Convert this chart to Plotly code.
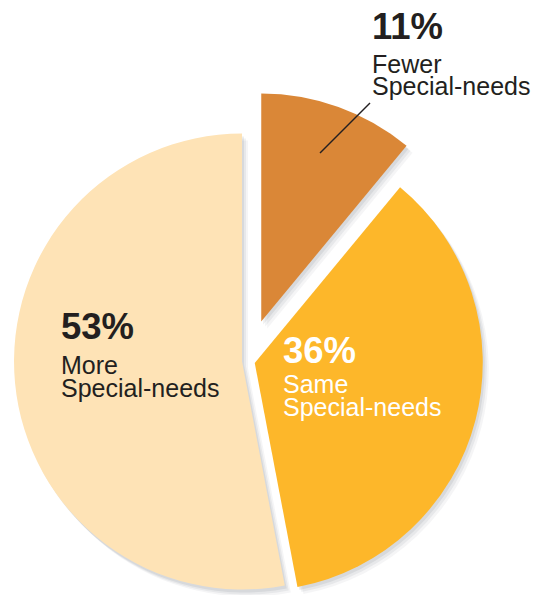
import math
import plotly.graph_objects as go

# ---- data ----
values = [11, 36, 53]
labels = ["Fewer Special-needs", "Same Special-needs", "More Special-needs"]
pct_text = ["11%", "36%", "53%"]
word_text = ["Fewer", "Same", "More"]
sub_text = ["Special-needs", "Special-needs", "Special-needs"]

# ---- style ----
colors = ["#DA8737", "#FDB72A", "#FEE3B6"]
text_colors = ["#231F20", "#FFFFFF", "#231F20"]
pull_px = [42, 8, 5]
W, H = 543, 595
OFF = 8  # page body margin
CX, CY, R = 247, 361, 228

fig = go.Figure()

total = float(sum(values))
centers = []
cum = 0.0
for i, v in enumerate(values):
    mid = (cum + v / 2.0) / total * 2 * math.pi
    cx = CX + pull_px[i] * math.sin(mid)
    cy = CY - pull_px[i] * math.cos(mid)
    centers.append((cx - OFF, cy - OFF))
    cum += v


def dom(cx, cy, r):
    cx = min(max(cx, r), W - r)
    cy = min(max(cy, r), H - r)
    return dict(x=[max(0, (cx - r) / W), min(1, (cx + r) / W)],
                y=[max(0, 1 - (cy + r) / H), min(1, 1 - (cy - r) / H)])


# soft shadows
shadow_layers = [(2, 3, 0.10), (4, 5, 0.08), (6, 7, 0.06)]
for i in range(len(values)):
    cx, cy = centers[i]
    for dx, dy, a in shadow_layers:
        cols = ["rgba(80,85,100,%.2f)" % a if j == i else "rgba(0,0,0,0)" for j in range(len(values))]
        fig.add_trace(go.Pie(
            values=values, labels=labels, sort=False, direction="clockwise", rotation=0,
            marker=dict(colors=cols, line=dict(width=0)), textinfo="none",
            hoverinfo="skip", showlegend=False, domain=dom(cx + dx, cy + dy, R)))

for i in range(len(values)):
    cx, cy = centers[i]
    cols = [colors[j] if j == i else "rgba(0,0,0,0)" for j in range(len(values))]
    fig.add_trace(go.Pie(
        values=values, labels=labels, sort=False, direction="clockwise", rotation=0,
        marker=dict(colors=cols, line=dict(width=0)), textinfo="none",
        hoverinfo="label+percent", showlegend=False, domain=dom(cx, cy, R)))

FONT = "Liberation Sans, Arial, sans-serif"
# label positions (px): left x, vertical centers for pct / word / sub lines
label_pos = [(370, 26, 63.5, 86.5), (281, 351, 383.5, 407.5), (59, 326, 364.5, 388.5)]
ann = []
for i in range(len(values)):
    x, y1, y2, y3 = label_pos[i]
    for txt, yy, size, bold in [(pct_text[i], y1, 36.5, True), (word_text[i], y2, 25, False), (sub_text[i], y3, 25, False)]:
        ann.append(dict(
            x=(x - OFF) / W, y=1 - (yy - OFF) / H, xref="paper", yref="paper",
            xanchor="left", yanchor="middle",
            text=("<b>%s</b>" % txt) if bold else txt, showarrow=False,
            font=dict(family=FONT, size=size, color=text_colors[i])))

fig.update_layout(
    width=W, height=H, margin=dict(l=0, r=0, t=0, b=0),
    paper_bgcolor="white", plot_bgcolor="white", showlegend=False,
    annotations=ann,
    shapes=[dict(type="line", xref="paper", yref="paper",
                 x0=(370 - OFF) / W, y0=1 - (103 - OFF) / H,
                 x1=(320 - OFF) / W, y1=1 - (153 - OFF) / H,
                 line=dict(color="#231F20", width=1.5))])

fig.write_html("out.html")
